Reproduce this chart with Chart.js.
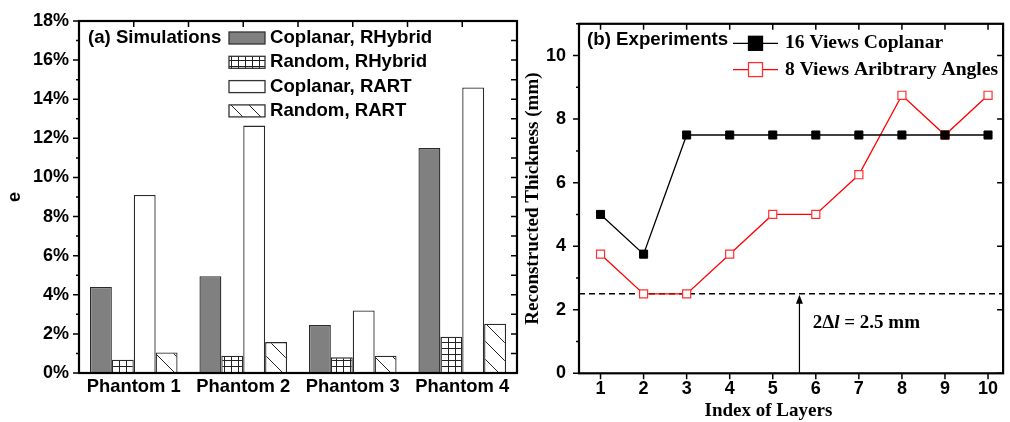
<!DOCTYPE html>
<html>
<head>
<meta charset="utf-8">
<script src="https://cdn.jsdelivr.net/npm/chart.js@4.4.1/dist/chart.umd.min.js"></script>
<style>
  html, body { margin: 0; padding: 0; background: #fff; }
  #wrap { position: relative; width: 1010px; height: 422px; overflow: hidden; }
  #chart-a { position: absolute; left: 0; top: 0; width: 520px; height: 422px; }
  #chart-b { position: absolute; left: 520px; top: 0; width: 490px; height: 422px; }
</style>
</head>
<body>
<div id="wrap">
  <canvas id="chart-a" width="520" height="422"></canvas>
  <canvas id="chart-b" width="490" height="422"></canvas>
</div>
<script>
const ARIAL = '"Liberation Sans", Arial, sans-serif';
const TIMES = '"Liberation Serif", "Times New Roman", serif';

// (a) simulations, error e in %
const phantoms = ['Phantom 1', 'Phantom 2', 'Phantom 3', 'Phantom 4'];
const coplanarRHybrid = [4.4, 4.95, 2.45, 11.5];
const randomRHybrid = [0.68, 0.88, 0.8, 1.86];
const coplanarRART = [9.1, 12.65, 3.2, 14.6];
const randomRART = [1.05, 1.58, 0.88, 2.52];
const percentTicks = [0, 2, 4, 6, 8, 10, 12, 14, 16, 18];

// (b) experiments, thickness in mm
const layers = [1, 2, 3, 4, 5, 6, 7, 8, 9, 10];
const coplanar16 = [5, 3.75, 7.5, 7.5, 7.5, 7.5, 7.5, 7.5, 7.5, 7.5];
const arbitrary8 = [3.75, 2.5, 2.5, 3.75, 5, 5, 6.25, 8.75, 7.5, 8.75];
const thicknessTicks = [0, 2, 4, 6, 8, 10];
const resolutionLimit = 2.5; // 2Δl
const arrowLayer = 5.62;

function gridHatch(ctx) {
  const c = document.createElement('canvas');
  c.width = 7; c.height = 6;
  const g = c.getContext('2d');
  g.fillStyle = '#fff'; g.fillRect(0, 0, 7, 6);
  g.fillStyle = '#222';
  g.fillRect(0, 0, 1, 6);
  g.fillRect(0, 0, 7, 1);
  return ctx.createPattern(c, 'repeat');
}

function diagHatch(ctx) {
  const c = document.createElement('canvas');
  c.width = 18; c.height = 18;
  const g = c.getContext('2d');
  g.fillStyle = '#fff'; g.fillRect(0, 0, 18, 18);
  g.strokeStyle = '#222'; g.lineWidth = 1;
  g.beginPath();
  for (const k of [-18, 0, 18]) { g.moveTo(k, 0); g.lineTo(k + 18, 18); }
  g.stroke();
  return ctx.createPattern(c, 'repeat');
}

const tickFont = { family: ARIAL, size: 18, weight: 'bold' };

// ---------- (a) ----------
const simDecor = {
  id: 'simDecor',
  afterDatasetsDraw(chart) {
    const { ctx, chartArea: a, scales: { x, y } } = chart;
    ctx.save();
    ctx.strokeStyle = '#000';
    ctx.lineWidth = 1.5;
    ctx.beginPath();
    for (let v = 0; v <= 18; v++) {
      const py = y.getPixelForValue(v);
      ctx.moveTo(a.left - (v % 2 === 0 ? 6 : 3), py); ctx.lineTo(a.left, py);
      ctx.moveTo(a.right, py); ctx.lineTo(a.right - 6, py);
    }
    for (let i = -0.5; i <= phantoms.length - 0.5; i += 0.5) {
      const px = x.getPixelForValue(i);
      ctx.moveTo(px, a.top); ctx.lineTo(px, a.top + 6);
    }
    ctx.stroke();
    ctx.lineWidth = 2.2;
    ctx.strokeRect(a.left, a.top, a.right - a.left, a.bottom - a.top);

    // legend
    ctx.font = `bold 18.6px ${ARIAL}`;
    ctx.textBaseline = 'middle';
    ctx.fillStyle = '#000';
    ctx.fillText('(a) Simulations', a.left + 9, a.top + 17);
    const lx = a.left + 150;
    chart.data.datasets.forEach((ds, i) => {
      const yy = a.top + 17 + i * 24.3;
      ctx.fillStyle = ds.backgroundColor;
      ctx.fillRect(lx, yy - 6, 36, 12);
      ctx.strokeStyle = '#333'; ctx.lineWidth = 1.3;
      ctx.strokeRect(lx, yy - 6, 36, 12);
      ctx.fillStyle = '#000';
      ctx.fillText(ds.label, lx + 41, yy);
    });
    ctx.restore();
  }
};

const ctxA = document.getElementById('chart-a').getContext('2d');
new Chart(ctxA, {
  type: 'bar',
  data: {
    labels: phantoms,
    datasets: [
      { label: 'Coplanar, RHybrid', data: coplanarRHybrid, backgroundColor: '#808080' },
      { label: 'Random, RHybrid', data: randomRHybrid, backgroundColor: gridHatch(ctxA) },
      { label: 'Coplanar, RART', data: coplanarRART, backgroundColor: '#ffffff' },
      { label: 'Random, RART', data: randomRART, backgroundColor: diagHatch(ctxA) }
    ]
  },
  options: {
    responsive: false,
    animation: false,
    layout: { padding: { top: 21, right: 3, left: 0, bottom: 0 } },
    datasets: { bar: { borderColor: '#2a2a2a', borderWidth: 1.3, categoryPercentage: 0.8, barPercentage: 1 } },
    plugins: { legend: { display: false }, tooltip: { enabled: false } },
    scales: {
      x: {
        grid: { display: false, drawTicks: false },
        border: { display: false },
        ticks: { color: '#000', font: { family: ARIAL, size: 18.4, weight: 'bold' }, padding: 3 },
        afterFit(s) { s.height = 49; }
      },
      y: {
        min: 0, max: 18,
        afterBuildTicks(s) { s.ticks = percentTicks.map(v => ({ value: v })); },
        grid: { display: false, drawTicks: false },
        border: { display: false },
        ticks: { color: '#000', font: tickFont, padding: 10, callback: v => v + '%' },
        title: { display: true, text: 'e', color: '#000', font: tickFont, padding: { top: 4, bottom: 0 } },
        afterFit(s) { s.width = 79; }
      }
    }
  },
  plugins: [simDecor]
});

// ---------- (b) ----------
const expDecor = {
  id: 'expDecor',
  beforeDatasetsDraw(chart) {
    const { ctx, chartArea: a, scales: { x, y } } = chart;
    const py = y.getPixelForValue(resolutionLimit);
    ctx.save();
    ctx.strokeStyle = '#000';
    ctx.lineWidth = 1.5;
    ctx.setLineDash([6, 4]);
    ctx.beginPath(); ctx.moveTo(a.left, py); ctx.lineTo(a.right, py); ctx.stroke();
    ctx.setLineDash([]);
    const ax = x.getPixelForValue(arrowLayer);
    ctx.lineWidth = 1.2;
    ctx.beginPath(); ctx.moveTo(ax, y.getPixelForValue(0)); ctx.lineTo(ax, py + 6); ctx.stroke();
    ctx.fillStyle = '#000';
    ctx.beginPath(); ctx.moveTo(ax, py + 1); ctx.lineTo(ax - 3.5, py + 10); ctx.lineTo(ax + 3.5, py + 10); ctx.closePath(); ctx.fill();
    ctx.restore();
  },
  afterDatasetsDraw(chart) {
    const { ctx, chartArea: a, scales: { x, y } } = chart;
    ctx.save();
    ctx.strokeStyle = '#000';
    ctx.lineWidth = 1.5;
    ctx.beginPath();
    layers.forEach(v => {
      const px = x.getPixelForValue(v);
      ctx.moveTo(px, a.bottom); ctx.lineTo(px, a.bottom + 6);
      ctx.moveTo(px, a.top); ctx.lineTo(px, a.top + 6);
    });
    for (let v = 0; v <= 11; v++) {
      const py = y.getPixelForValue(v);
      const major = v % 2 === 0;
      ctx.moveTo(a.left - (major ? 6 : 3), py); ctx.lineTo(a.left, py);
      if (major) { ctx.moveTo(a.right, py); ctx.lineTo(a.right - 6, py); }
    }
    ctx.stroke();
    ctx.lineWidth = 2.2;
    ctx.strokeRect(a.left, a.top, a.right - a.left, a.bottom - a.top);

    // x axis title
    ctx.fillStyle = '#000';
    ctx.textBaseline = 'middle';
    ctx.textAlign = 'center';
    ctx.font = `bold 19px ${TIMES}`;
    ctx.fillText('Index of Layers', x.getPixelForValue(4.9), a.bottom + 38);
    ctx.textAlign = 'left';

    // annotation 2Δl = 2.5 mm
    let tx = x.getPixelForValue(5.93);
    const ty = y.getPixelForValue(1.57);
    const parts = [['2Δ', 'bold'], ['l', 'italic bold'], [' = 2.5 mm', 'bold']];
    parts.forEach(([t, st]) => {
      ctx.font = `${st} 19px ${TIMES}`;
      ctx.fillText(t, tx, ty);
      tx += ctx.measureText(t).width;
    });

    // legend
    ctx.font = `bold 18.7px ${ARIAL}`;
    ctx.fillText('(b) Experiments', a.left + 8, a.top + 16.5);
    ctx.font = `bold 19.6px ${TIMES}`;
    chart.data.datasets.forEach((ds, i) => {
      const yy = a.top + 19.5 + i * 26.3;
      const x0 = a.left + 154, x1 = a.left + 199, xm = (x0 + x1) / 2;
      ctx.strokeStyle = ds.borderColor; ctx.lineWidth = 1.3;
      ctx.beginPath(); ctx.moveTo(x0, yy); ctx.lineTo(x1, yy); ctx.stroke();
      ctx.fillStyle = ds.pointBackgroundColor;
      ctx.fillRect(xm - 7, yy - 7, 14, 14);
      ctx.strokeStyle = ds.pointBorderColor;
      ctx.strokeRect(xm - 7, yy - 7, 14, 14);
      ctx.fillStyle = '#000';
      ctx.fillText(ds.label, a.left + 206, yy);
    });
    ctx.restore();
  }
};

const ctxB = document.getElementById('chart-b').getContext('2d');
new Chart(ctxB, {
  type: 'line',
  data: {
    datasets: [
      {
        label: '16 Views Coplanar',
        data: layers.map((l, i) => ({ x: l, y: coplanar16[i] })),
        borderColor: '#000', borderWidth: 1.3,
        pointStyle: 'rect', pointRadius: 5.7, pointBorderWidth: 1,
        pointBackgroundColor: '#000', pointBorderColor: '#000'
      },
      {
        label: '8 Views Aribtrary Angles',
        data: layers.map((l, i) => ({ x: l, y: arbitrary8[i] })),
        borderColor: '#ff0000', borderWidth: 1.3,
        pointStyle: 'rect', pointRadius: 5.7, pointBorderWidth: 1.2,
        pointBackgroundColor: '#ffffff', pointBorderColor: '#ff3030'
      }
    ]
  },
  options: {
    responsive: false,
    animation: false,
    layout: { padding: { top: 21, right: 1, left: 0, bottom: 0 } },
    plugins: { legend: { display: false }, tooltip: { enabled: false } },
    scales: {
      x: {
        type: 'linear', min: 0.5, max: 10.35,
        afterBuildTicks(s) { s.ticks = layers.map(v => ({ value: v })); },
        grid: { display: false, drawTicks: false },
        border: { display: false },
        ticks: { color: '#000', font: tickFont, padding: 5 },
        afterFit(s) { s.height = 48.7; }
      },
      y: {
        min: 0, max: 11,
        afterBuildTicks(s) { s.ticks = thicknessTicks.map(v => ({ value: v })); },
        grid: { display: false, drawTicks: false },
        border: { display: false },
        ticks: { color: '#000', font: tickFont, padding: 13 },
        title: {
          display: true, text: 'Reconstructed Thickness (mm)', color: '#000',
          font: { family: TIMES, size: 19, weight: 'bold' }, padding: { top: 2, bottom: 0 }
        },
        afterFit(s) { s.width = 59; }
      }
    }
  },
  plugins: [expDecor]
});
</script>
</body>
</html>
